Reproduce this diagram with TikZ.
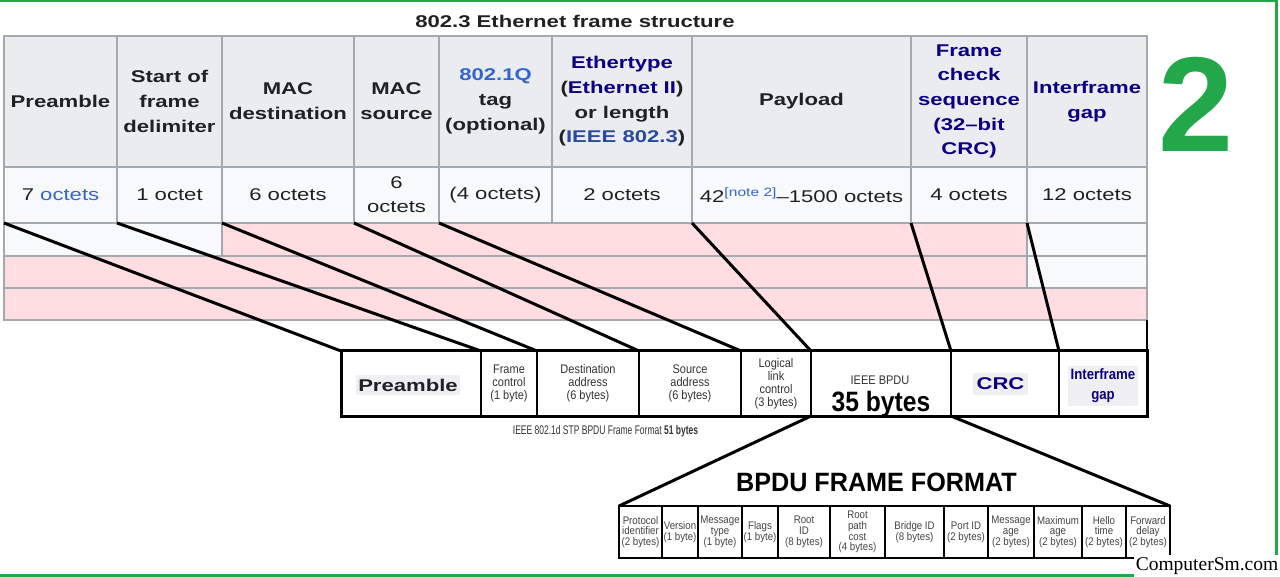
\documentclass[tikz,border=0pt]{standalone}
\usepackage{fontspec}
\setmainfont{Liberation Sans}
\newfontfamily\hdr[FakeStretch=1.3]{Liberation Sans}
\newfontfamily\arialf{Liberation Sans}
\newfontfamily\smallf[FakeStretch=0.88]{Liberation Sans}
\newfontfamily\narrowf[FakeStretch=0.68]{Liberation Sans}
\newfontfamily\titlef[FakeStretch=0.95]{Liberation Sans}
\newfontfamily\bigf[FakeStretch=0.88]{Liberation Sans}
\newfontfamily\serifw{Liberation Serif}
\definecolor{tb}{HTML}{A2A9B1}
\definecolor{hfill}{HTML}{EAECF0}
\definecolor{vfill}{HTML}{F8F9FA}
\definecolor{pinkc}{HTML}{FFDDE0}
\definecolor{txt}{HTML}{202122}
\definecolor{lnk}{HTML}{3366CC}
\definecolor{lnkb}{HTML}{2A4B9D}
\definecolor{vis}{HTML}{0B0080}
\definecolor{grn}{HTML}{22A84A}
\definecolor{gtxt}{HTML}{333333}
\definecolor{btxt}{HTML}{444444}
\definecolor{hl}{HTML}{EFEFF2}
\begin{document}
\begin{tikzpicture}[x=1pt,y=-1pt,
  hcell/.style={draw=tb, fill=hfill, line width=1.2pt, minimum height=131pt, inner sep=0pt, outer sep=0pt, align=center, text=txt, font=\hdr\bfseries\fontsize{17}{24.7}\selectfont},
  vcell/.style={draw=tb, fill=vfill, line width=1.2pt, minimum height=56pt, inner sep=0pt, outer sep=0pt, align=center, text=txt, font=\hdr\fontsize{17}{24}\selectfont},
  fcell/.style={draw=black, fill=white, line width=2.5pt, minimum height=65pt, inner sep=0pt, outer sep=0pt, align=center, text=gtxt, font=\smallf\fontsize{12.5}{13}\selectfont},
  bcell/.style={draw=black, fill=white, line width=1.4pt, minimum height=52pt, inner sep=0pt, outer sep=0pt, align=center, text=btxt, font=\smallf\fontsize{11}{10.8}\selectfont},
  conn/.style={draw=black, line width=3pt},
  gline/.style={draw=grn, line width=3pt}]
\useasboundingbox (0,0) rectangle (1280,577);
\fill[white] (0,0) rectangle (1280,577);

% title
\node[text=txt, font=\hdr\bfseries\fontsize{17}{20}\selectfont, inner sep=0pt] (title) at (575,21) {802.3 Ethernet frame structure};

% header row
\node[hcell, minimum width=113pt] (h1) at (60.5,101.5) {Preamble};
\node[hcell, minimum width=105pt] (h2) at (169.5,101.5) {Start of\\frame\\delimiter};
\node[hcell, minimum width=132pt] (h3) at (288,101.5) {MAC\\destination};
\node[hcell, minimum width=85pt] (h4) at (396.5,101.5) {MAC\\source};
\node[hcell, minimum width=113pt] (h5) at (495.5,101.5) {\textcolor{lnk}{802.1Q}\\tag\\(optional)};
\node[hcell, minimum width=140pt] (h6) at (622,101.5) {\textcolor{vis}{Ethertype}\\(\textcolor{vis}{Ethernet II})\\or length\\(\textcolor{lnkb}{IEEE 802.3})};
\node[hcell, minimum width=219pt] (h7) at (801.5,101.5) {Payload};
\node[hcell, minimum width=116pt, text=vis] (h8) at (969,101.5) {Frame\\check\\sequence\\(32\textendash bit\\CRC)};
\node[hcell, minimum width=120pt, text=vis] (h9) at (1087,101.5) {Interframe\\gap};

% value row
\node[vcell, minimum width=113pt] (v1) at (60.5,195) {7 \textcolor{lnk}{octets}};
\node[vcell, minimum width=105pt] (v2) at (169.5,195) {1 octet};
\node[vcell, minimum width=132pt] (v3) at (288,195) {6 octets};
\node[vcell, minimum width=85pt] (v4) at (396.5,195) {6\\octets};
\node[vcell, minimum width=113pt] (v5) at (495.5,195) {(4 octets)};
\node[vcell, minimum width=140pt] (v6) at (622,195) {2 octets};
\node[vcell, minimum width=219pt] (v7) at (801.5,195) {42\raisebox{6pt}{\fontsize{12}{12}\selectfont\textcolor{lnk}{[note 2]}}\textendash 1500 octets};
\node[vcell, minimum width=116pt] (v8) at (969,195) {4 octets};
\node[vcell, minimum width=120pt] (v9) at (1087,195) {12 octets};

% pink rows
\filldraw[fill=vfill, draw=tb, line width=1.2pt] (4,223) rectangle (222,256);
\filldraw[fill=pinkc, draw=tb, line width=1.2pt] (222,223) rectangle (1027,256);
\filldraw[fill=vfill, draw=tb, line width=1.2pt] (1027,223) rectangle (1147,256);
\filldraw[fill=pinkc, draw=tb, line width=1.2pt] (4,256) rectangle (1027,288);
\filldraw[fill=vfill, draw=tb, line width=1.2pt] (1027,256) rectangle (1147,288);
\filldraw[fill=pinkc, draw=tb, line width=1.2pt] (4,288) rectangle (1147,320);

% middle frame
\node[fcell, minimum width=140pt] (f1) at (411,383.5) {};
\node[fill=hl, inner xsep=2pt, inner ysep=4pt, text=txt, font=\hdr\bfseries\fontsize{17}{20}\selectfont] (f1t) at (408,385) {Preamble};
\node[fcell, minimum width=56pt] (f2) at (509,383.5) {Frame\\control\\(1 byte)};
\node[fcell, minimum width=102pt] (f3) at (588,383.5) {Destination\\address\\(6 bytes)};
\node[fcell, minimum width=102pt] (f4) at (690,383.5) {Source\\address\\(6 bytes)};
\node[fcell, minimum width=70pt] (f5) at (776,383.5) {Logical\\link\\control\\(3 bytes)};
\node[fcell, minimum width=140pt] (f6) at (881,383.5) {};
\node[text=gtxt, font=\smallf\fontsize{12.5}{13}\selectfont, inner sep=0pt] (f6a) at (880,380.5) {IEEE BPDU};
\node[text=black, font=\bigf\bfseries\fontsize{28}{30}\selectfont, inner sep=0pt] (f6b) at (881,404) {35 bytes};
\node[fcell, minimum width=108pt] (f7) at (1005,383.5) {};
\node[fill=hl, minimum width=55pt, minimum height=22pt, inner sep=0pt, text=vis, font=\hdr\bfseries\fontsize{17}{20}\selectfont] (f7t) at (1000.5,384) {CRC};
\node[fcell, minimum width=88pt] (f8) at (1103,383.5) {};
\node[fill=hl, minimum width=70pt, minimum height=40pt, inner sep=0pt, align=center, text=vis, font=\smallf\bfseries\fontsize{15}{20}\selectfont] (f8t) at (1103,386) {Interframe\\gap};
\draw[line width=3pt] (f1.north west) rectangle (f8.south east);
\coordinate (tr) at (1147,320);
\draw[line width=2.5pt] (f8.north east) -- (tr);

\node[text=gtxt, font=\narrowf\fontsize{12.5}{13}\selectfont, inner sep=0pt] (cap) at (605.5,431) {IEEE 802.1d STP BPDU Frame Format \textbf{51 bytes}};

% connectors top table -> frame
\draw[conn] (v1.south west) -- (f1.north west);
\draw[conn] (v2.south west) -- (f2.north west);
\draw[conn] (v3.south west) -- (f3.north west);
\draw[conn] (v4.south west) -- (f4.north west);
\draw[conn] (v5.south west) -- (f5.north west);
\draw[conn] (v7.south west) -- (f6.north west);
\draw[conn] (v8.south west) -- (f7.north west);
\draw[conn] (v9.south west) -- (f8.north west);

% BPDU format
\node[text=black, font=\titlef\bfseries\fontsize{26.5}{28}\selectfont, inner sep=0pt] (btitle) at (876.5,482) {BPDU FRAME FORMAT};
\node[bcell, minimum width=43pt] (b1) at (640.5,532) {Protocol\\identifier\\(2 bytes)};
\node[bcell, minimum width=36pt] (b2) at (680,532) {Version\\(1 byte)};
\node[bcell, minimum width=44pt] (b3) at (720,532) {Message\\type\\(1 byte)};
\node[bcell, minimum width=36pt] (b4) at (760,532) {Flags\\(1 byte)};
\node[bcell, minimum width=52pt] (b5) at (804,532) {Root\\ID\\(8 bytes)};
\node[bcell, minimum width=55pt] (b6) at (857.5,532) {Root\\path\\cost\\(4 bytes)};
\node[bcell, minimum width=59pt] (b7) at (914.5,532) {Bridge ID\\(8 bytes)};
\node[bcell, minimum width=44pt] (b8) at (966,532) {Port ID\\(2 bytes)};
\node[bcell, minimum width=46pt] (b9) at (1011,532) {Message\\age\\(2 bytes)};
\node[bcell, minimum width=48pt] (b10) at (1058,532) {Maximum\\age\\(2 bytes)};
\node[bcell, minimum width=44pt] (b11) at (1104,532) {Hello\\time\\(2 bytes)};
\node[bcell, minimum width=44pt] (b12) at (1148,532) {Forward\\delay\\(2 bytes)};
\draw[line width=2pt] (b1.north west) rectangle (b12.south east);
\draw[conn] (f6.south west) -- (b1.north west);
\draw[conn] (f6.south east) -- (b12.north east);

% big green 2
\node[text=grn, font=\arialf\bfseries\fontsize{135}{135}\selectfont, inner sep=0pt, anchor=base] (two) at (1196,152) {2};

% green frame lines
\coordinate (g1) at (0,1);
\coordinate (g2) at (1276,1);
\coordinate (g3) at (1276,557);
\coordinate (g4) at (0,575);
\coordinate (g5) at (1140,575);
\draw[gline] (g1) -- (g2) -- (g3);
\draw[gline] (g4) -- (g5);

% watermark
\node[fill=white, minimum width=147pt, minimum height=22pt, inner sep=0pt, text=black, font=\serifw\fontsize{19.5}{20}\selectfont] (wm) at (1207,566) {ComputerSm.com};
\end{tikzpicture}
\end{document}
